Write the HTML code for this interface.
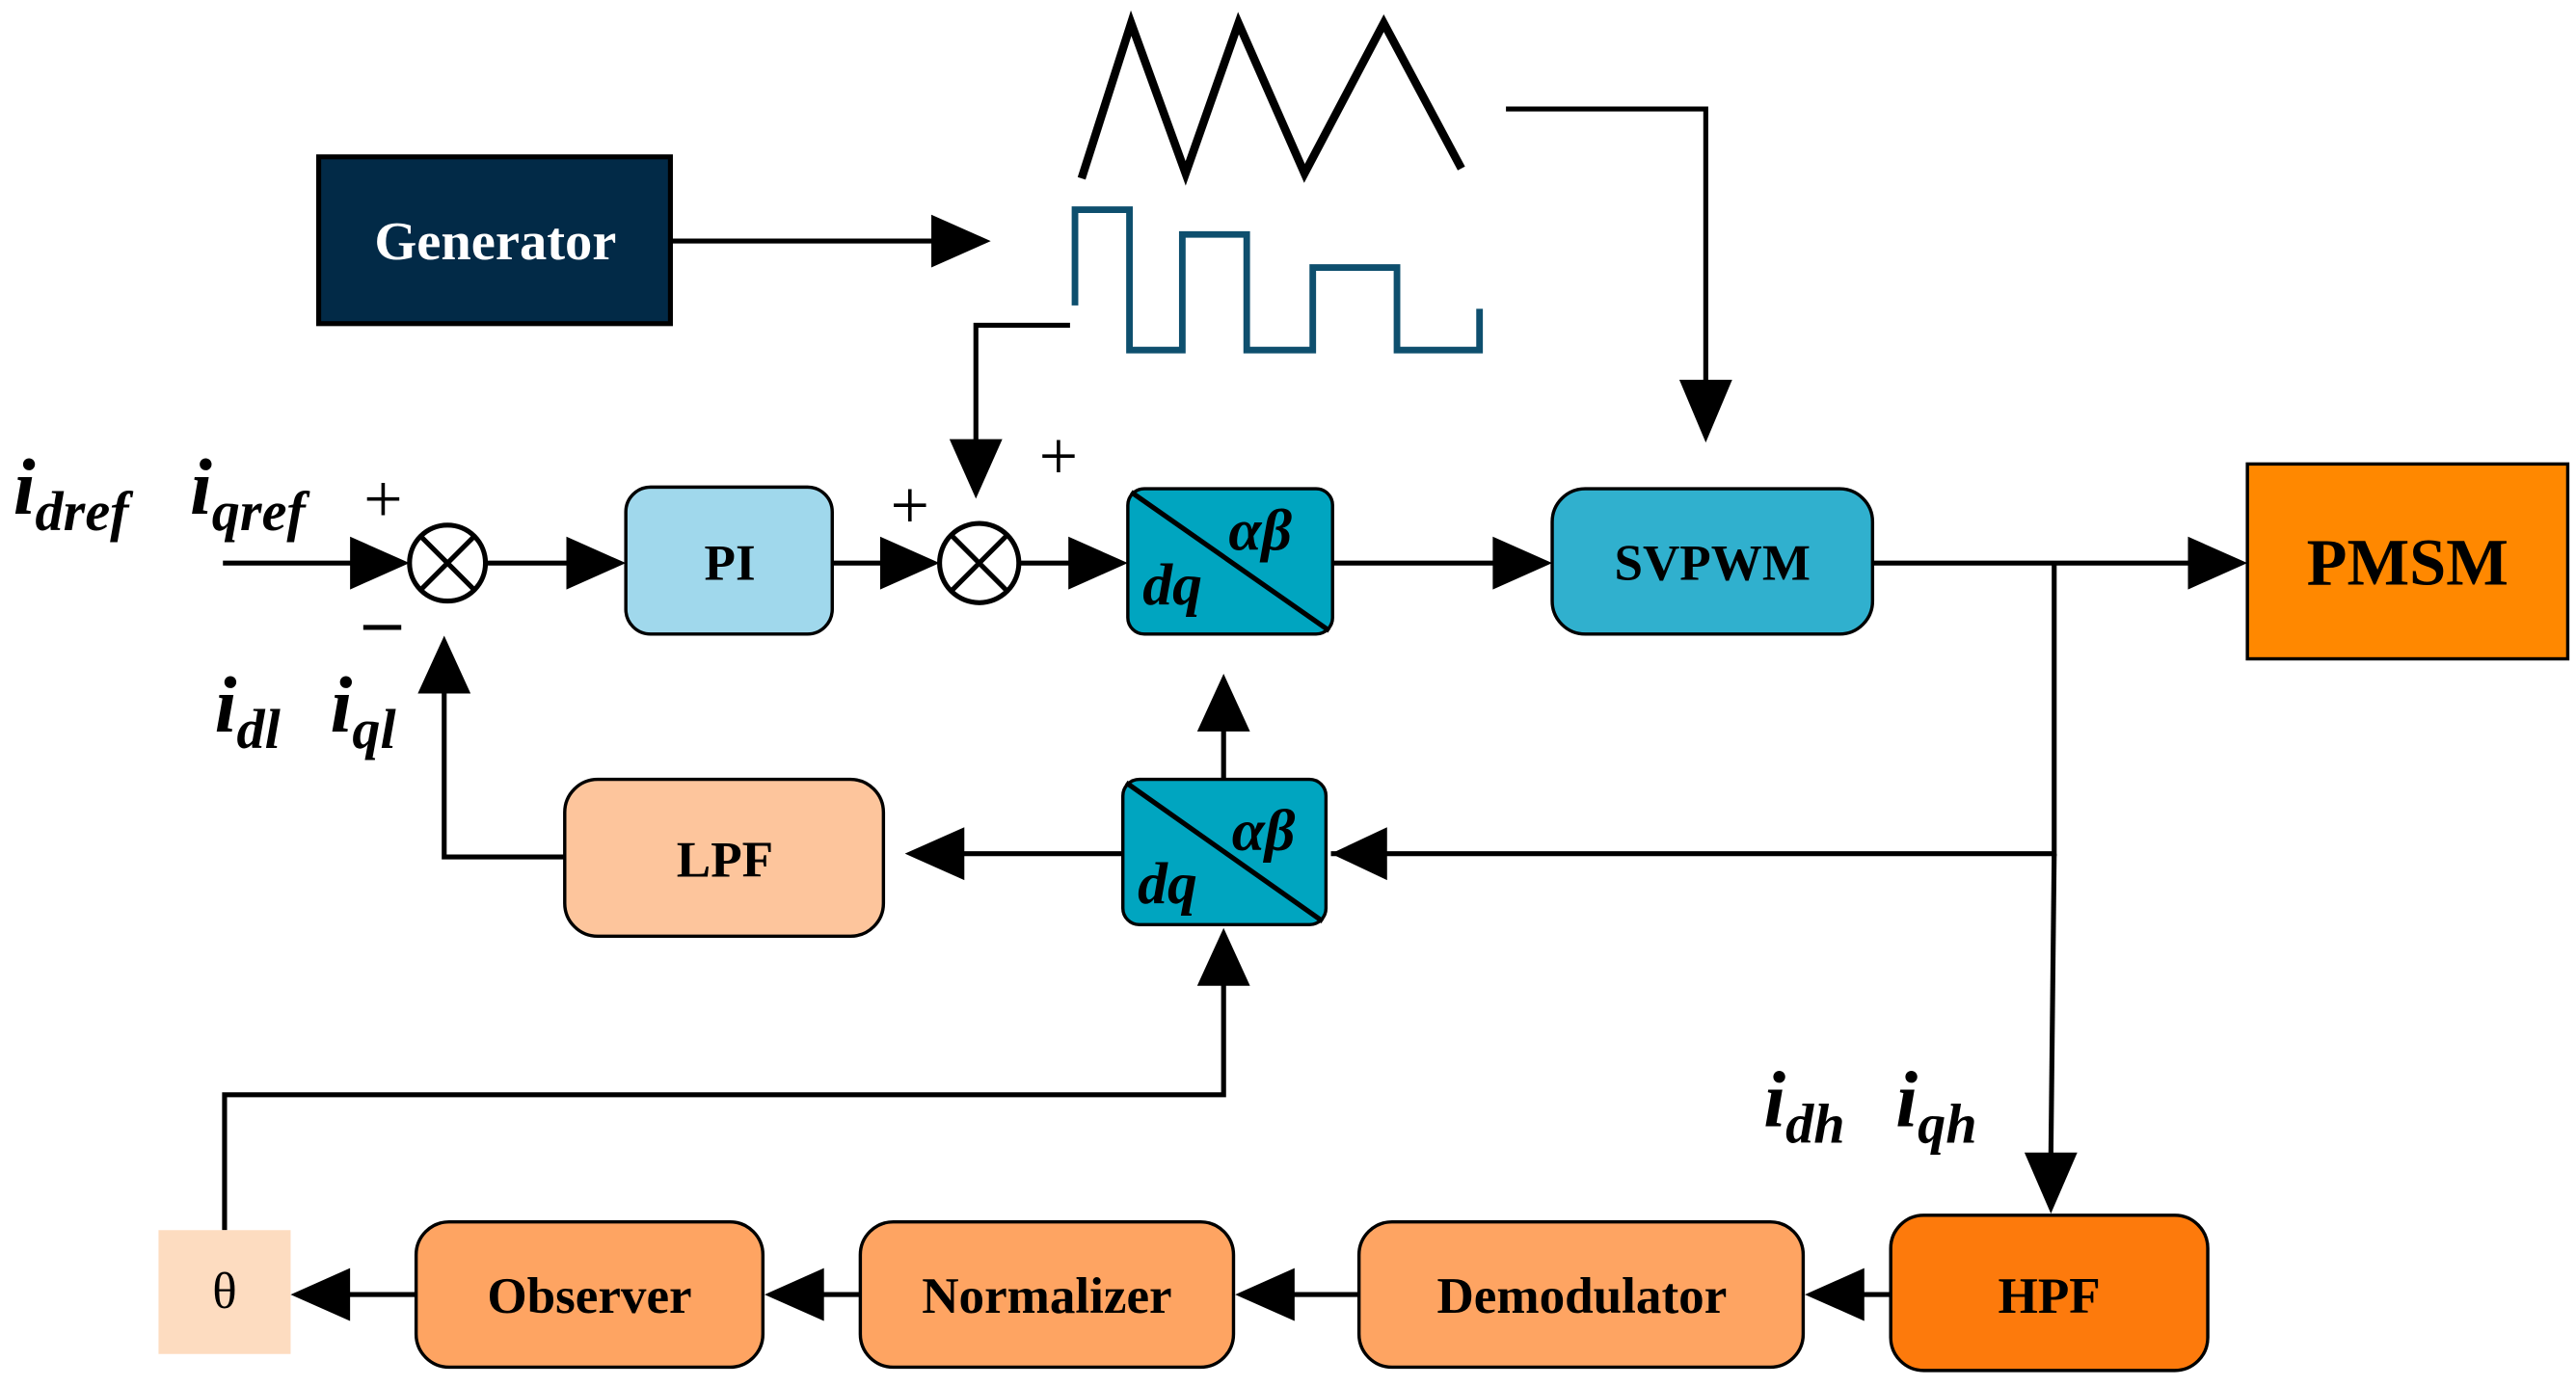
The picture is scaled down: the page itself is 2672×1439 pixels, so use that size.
<!DOCTYPE html>
<html><head><meta charset="utf-8"><style>
html,body{margin:0;padding:0;background:#fff;}
svg{display:block;}
text{font-family:"Liberation Serif",serif;font-weight:bold;}
</style></head><body>
<svg width="2672" height="1439" viewBox="0 0 1560 840" preserveAspectRatio="none" xmlns="http://www.w3.org/2000/svg">
<!-- waves -->
<polyline points="655,108 685,14 718,105 750,14 790,105 838,14 885,102" fill="none" stroke="#000" stroke-width="5"/>
<polyline points="651,185 651,127 684,127 684,212 716,212 716,142 755,142 755,212 795,212 795,162 846,162 846,212 896,212 896,187" fill="none" stroke="#0e4f6e" stroke-width="4"/>
<!-- Generator -->
<rect x="193" y="95" width="213" height="101" fill="#022a47" stroke="#000" stroke-width="3"/>
<text x="300" y="157" fill="#fff" font-size="33" text-anchor="middle">Generator</text>
<g stroke="#000" stroke-width="3" fill="none">
<line x1="406" y1="146" x2="570" y2="146"/>
<polyline points="912,66 1033,66 1033,235"/>
<polyline points="648,197 591,197 591,270"/>
<line x1="135" y1="341" x2="215" y2="341"/>
<line x1="294" y1="341" x2="345" y2="341"/>
<line x1="504" y1="341" x2="536" y2="341"/>
<line x1="617" y1="341" x2="650" y2="341"/>
<line x1="807" y1="341" x2="905" y2="341"/>
<line x1="1134" y1="341" x2="1326" y2="341"/>
<polyline points="1244,341 1244,517 806,517"/>
<line x1="1244" y1="517" x2="1242" y2="700"/>
<line x1="680" y1="517" x2="583" y2="517"/>
<polyline points="342,519 269,519 269,418"/>
<line x1="741" y1="472" x2="741" y2="440"/>
<polyline points="136,745 136,663 741,663 741,595"/>
<line x1="1145" y1="784" x2="1127" y2="784"/>
<line x1="823" y1="784" x2="782" y2="784"/>
<line x1="521" y1="784" x2="497" y2="784"/>
<line x1="252" y1="784" x2="210" y2="784"/>
</g>
<g fill="#000">
<polygon points="600,146 564,130 564,162"/>
<polygon points="1033,268 1017,230 1049,230"/>
<polygon points="591,302 575,266 607,266"/>
<polygon points="248,341 212,325 212,357"/>
<polygon points="379,341 343,325 343,357"/>
<polygon points="569,341 533,325 533,357"/>
<polygon points="683,341 647,325 647,357"/>
<polygon points="940,341 904,325 904,357"/>
<polygon points="1361,341 1325,325 1325,357"/>
<polygon points="806,517 840,501 840,533"/>
<polygon points="548,517 584,501 584,533"/>
<polygon points="269,385 253,420 285,420"/>
<polygon points="741,408 725,443 757,443"/>
<polygon points="741,562 725,597 757,597"/>
<polygon points="1242,735 1226,698 1258,698"/>
<polygon points="1093,784 1129,768 1129,800"/>
<polygon points="748,784 784,768 784,800"/>
<polygon points="463,784 499,768 499,800"/>
<polygon points="176,784 212,768 212,800"/>
</g>
<!-- sums -->
<g stroke="#000" stroke-width="3" fill="#fff">
<circle cx="271" cy="341" r="23"/>
<circle cx="593" cy="341" r="24"/>
</g>
<g stroke="#000" stroke-width="3">
<line x1="255" y1="325" x2="287" y2="357"/><line x1="287" y1="325" x2="255" y2="357"/>
<line x1="576" y1="324" x2="610" y2="358"/><line x1="610" y1="324" x2="576" y2="358"/>
</g>
<!-- blocks -->
<g stroke="#000" stroke-width="2">
<rect x="379" y="295" width="125" height="89" rx="15" fill="#a0d8ec"/>
<rect x="683" y="296" width="124" height="88" rx="10" fill="#00a5c0"/>
<rect x="940" y="296" width="194" height="88" rx="20" fill="#30b0ce"/>
<rect x="1361" y="281" width="194" height="118" fill="#ff8800"/>
<rect x="680" y="472" width="123" height="88" rx="10" fill="#00a5c0"/>
<rect x="342" y="472" width="193" height="95" rx="20" fill="#fdc59c"/>
<rect x="252" y="740" width="210" height="88" rx="20" fill="#fea462"/>
<rect x="521" y="740" width="226" height="88" rx="20" fill="#fea462"/>
<rect x="823" y="740" width="269" height="88" rx="20" fill="#fea462"/>
<rect x="1145" y="736" width="192" height="94" rx="20" fill="#fd7a0c"/>
</g>
<rect x="96" y="745" width="80" height="75" fill="#fddcc0"/>
<g stroke="#000" stroke-width="3">
<line x1="685" y1="298" x2="805" y2="382"/>
<line x1="682" y1="474" x2="801" y2="558"/>
</g>
<g font-size="31" text-anchor="middle" fill="#000">
<text x="442" y="351">PI</text>
<text x="1037" y="351">SVPWM</text>
<text x="1458" y="354" font-size="40">PMSM</text>
<text x="439" y="531">LPF</text>
<text x="357" y="795">Observer</text>
<text x="634" y="795">Normalizer</text>
<text x="958" y="795">Demodulator</text>
<text x="1241" y="795">HPF</text>
<text x="136" y="792" style="font-weight:normal">θ</text>
</g>
<g font-style="italic" font-size="36" fill="#000">
<text x="692" y="366">dq</text><text x="744" y="333">αβ</text>
<text x="689" y="547">dq</text><text x="746" y="515">αβ</text>
</g>
<g font-style="italic" fill="#000" font-size="48">
<text x="8" y="311">i<tspan font-size="34" dy="10">dref</tspan></text>
<text x="115" y="311">i<tspan font-size="34" dy="10">qref</tspan></text>
<text x="130" y="443">i<tspan font-size="34" dy="10">dl</tspan></text>
<text x="200" y="443">i<tspan font-size="34" dy="10">ql</tspan></text>
<text x="1068" y="682">i<tspan font-size="34" dy="10">dh</tspan></text>
<text x="1148" y="682">i<tspan font-size="34" dy="10">qh</tspan></text>
</g>
<g fill="#000" text-anchor="middle" style="font-weight:normal" font-size="42">
<text x="232" y="316" style="font-weight:normal">+</text>
<text x="551" y="320" style="font-weight:normal">+</text>
<text x="641" y="290" style="font-weight:normal">+</text>
</g>
<line x1="220" y1="380" x2="243" y2="380" stroke="#000" stroke-width="3"/>
</svg>
</body></html>
